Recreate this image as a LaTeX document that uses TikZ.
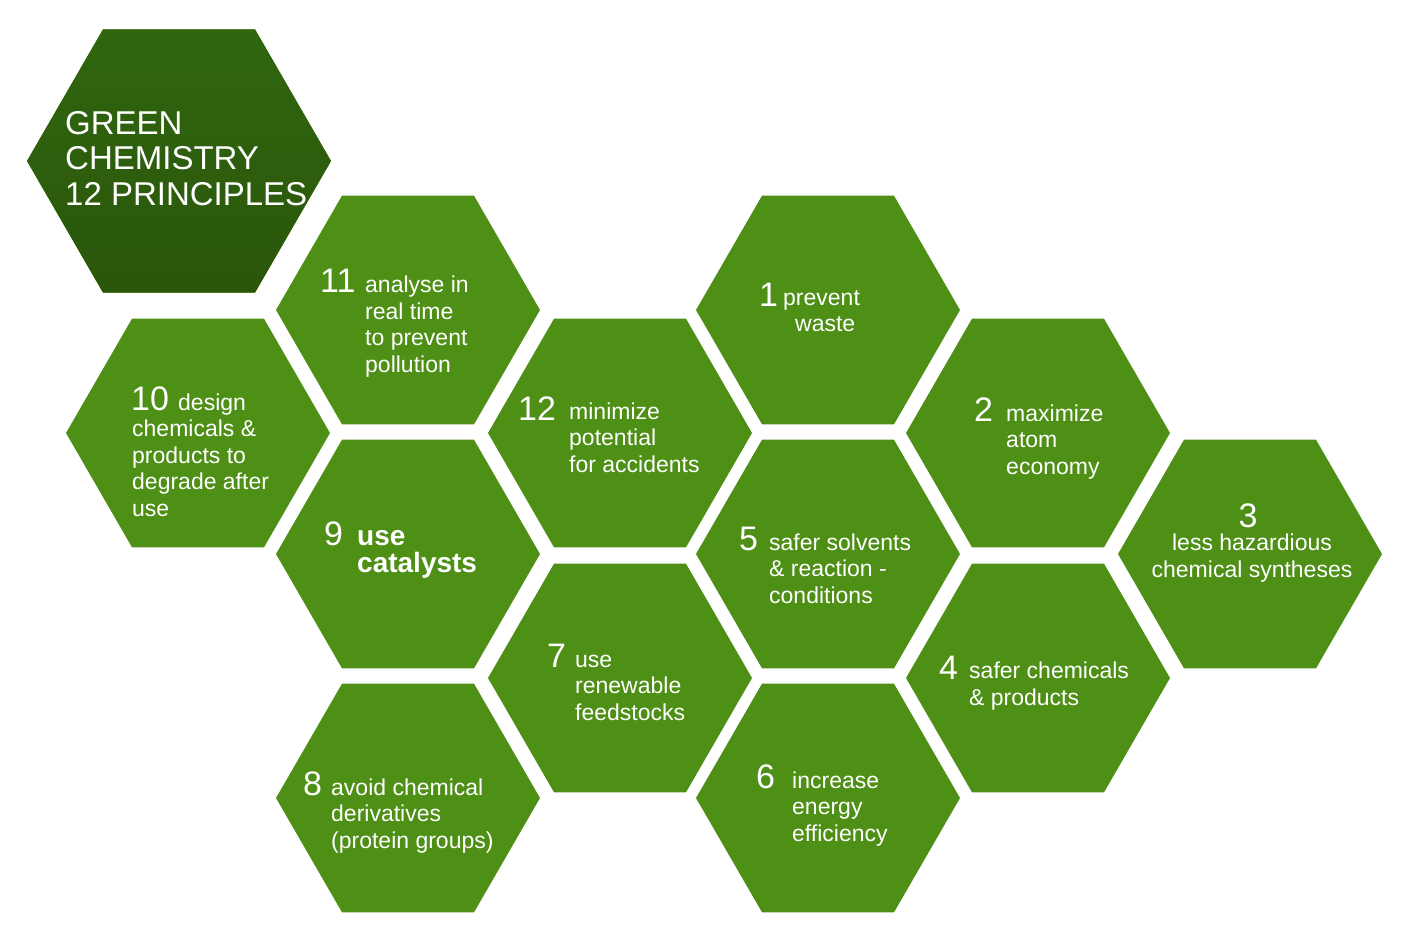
\documentclass[tikz,border=0pt]{standalone}
\usepackage{fontspec}
\setmainfont{Liberation Sans}
\usetikzlibrary{shapes.geometric}
\definecolor{hexg}{HTML}{4E8F16}
\definecolor{hext}{HTML}{306610}
\definecolor{hexb}{HTML}{2A560A}
\tikzset{
  hexa/.style={regular polygon,regular polygon sides=6,minimum size=264pt,inner sep=0pt,fill=hexg,draw=none},
  num/.style={anchor=base west,inner sep=0pt,text=white,font=\fontsize{34}{34}\selectfont},
  txt/.style={anchor=base west,inner sep=0pt,text=white,align=left,font=\fontsize{23}{26.5}\selectfont},
}
\begin{document}
\begin{tikzpicture}[x=1pt,y=-1pt]
\useasboundingbox (0,0) rectangle (1421,938);
\node[hexa,minimum size=304pt,top color=hext,bottom color=hexb] (t) at (179,161) {};
\node[hexa] (h11) at (408,310) {};
\node[hexa] (h10) at (198,433) {};
\node[hexa] (h9) at (408,554) {};
\node[hexa] (h8) at (408,798) {};
\node[hexa] (h12) at (620,433) {};
\node[hexa] (h7) at (620,678) {};
\node[hexa] (h1) at (828,310) {};
\node[hexa] (h5) at (828,554) {};
\node[hexa] (h6) at (828,798) {};
\node[hexa] (h2) at (1038,433) {};
\node[hexa] (h4) at (1038,678) {};
\node[hexa] (h3) at (1250,554) {};
% title (base = last line)
\node[txt,font=\fontsize{33}{35.5}\selectfont] (tt) at (65,205) {GREEN\\CHEMISTRY\\12 PRINCIPLES};
% 11
\node[num] (n11) at (320,292) {11};
\node[txt] (t11) at (365,372) {analyse in\\real time\\to prevent\\pollution};
% 10
\node[num] (n10) at (131,410) {10};
\node[txt] (t10a) at (178,410) {design};
\node[txt] (t10) at (132,516) {chemicals \&\\products to\\degrade after\\use};
% 9
\node[num] (n9) at (324,545) {9};
\node[txt,font=\bfseries\fontsize{28}{27}\selectfont] (t9) at (357,572) {use\\catalysts};
% 8
\node[num] (n8) at (303,795) {8};
\node[txt] (t8) at (331,848) {avoid chemical\\derivatives\\(protein groups)};
% 12
\node[num] (n12) at (518,420) {12};
\node[txt] (t12) at (569,472) {minimize\\potential\\for accidents};
% 7
\node[num] (n7) at (547,667) {7};
\node[txt] (t7) at (575,720) {use\\renewable\\feedstocks};
% 1
\node[num] (n1) at (759,306) {1};
\node[txt] (t1a) at (783,305) {prevent};
\node[txt] (t1b) at (795,331) {waste};
% 5
\node[num] (n5) at (739,550) {5};
\node[txt] (t5) at (769,603) {safer solvents\\\& reaction -\\conditions};
% 6
\node[num] (n6) at (756,788) {6};
\node[txt] (t6) at (792,841) {increase\\energy\\efficiency};
% 2
\node[num] (n2) at (974,421) {2};
\node[txt] (t2) at (1006,474) {maximize\\atom\\economy};
% 4
\node[num] (n4) at (939,679) {4};
\node[txt] (t4) at (969,705) {safer chemicals\\\& products};
% 3
\node[num,anchor=base] (n3) at (1248,527) {3};
\node[txt,align=center,anchor=base] (t3) at (1252,577) {less hazardious\\chemical syntheses};
\end{tikzpicture}
\end{document}
